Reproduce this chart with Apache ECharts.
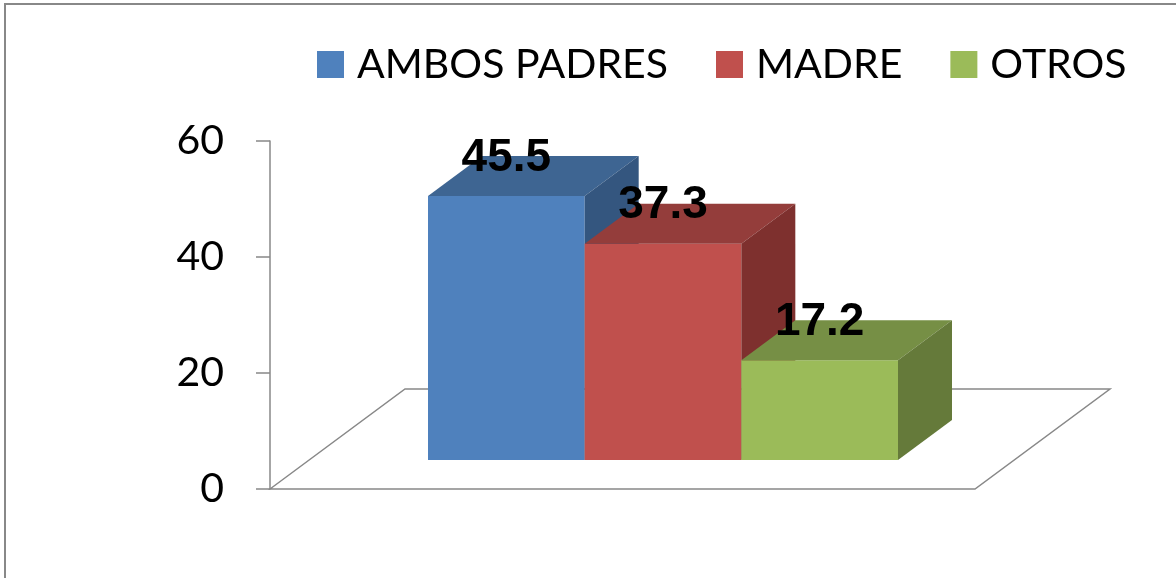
<!DOCTYPE html>
<html>
<head>
<meta charset="utf-8">
<script src="https://cdn.jsdelivr.net/npm/echarts/dist/echarts.min.js"></script>
<style>
html, body { margin: 0; padding: 0; background: #fff; }
#chart { width: 1176px; height: 578px; }
</style>
</head>
<body>
<div id="chart"></div>
<script>
// Data
const categories = ['AMBOS PADRES', 'MADRE', 'OTROS'];
const values = [45.5, 37.3, 17.2];
const yTicks = [0, 20, 40, 60];

// Face colours for the 3D columns (front, top, side)
const frontColors = ['#4F81BD', '#C0504D', '#9BBB59'];
const topColors = ['#3E6592', '#943D3B', '#768F45'];
const sideColors = ['#34567F', '#7E302E', '#657A3A'];
const barDepth = [54, -40];
const floorDepth = [135, -100];
const gray = '#888888';

const chartDom = document.getElementById('chart');
const myChart = echarts.init(chartDom);

//Builds one 3D column series (front face, top face, side face and label)
function makeBarSeries(idx) {
    return {
        name: categories[idx],
        type: 'custom',
        xAxisIndex: 1,
        yAxisIndex: 1,
        itemStyle: { color: frontColors[idx] },
        encode: { x: 0, y: 1 },
        data: [[idx, values[idx]]],
        renderItem: function (params, api) {
            const top = api.coord([api.value(0), api.value(1)]);
            const base = api.coord([api.value(0), 0]);
            const w = api.size([1, 0])[0];
            const xl = top[0] - w / 2;
            const xr = top[0] + w / 2;
            const yt = top[1];
            const yb = base[1];
            const dx = barDepth[0];
            const dy = barDepth[1];
            return {
                type: 'group',
                children: [
                    {
                        type: 'rect',
                        shape: { x: xl, y: yt, width: w, height: yb - yt },
                        style: { fill: frontColors[idx] }
                    },
                    {
                        type: 'polygon',
                        shape: { points: [[xl, yt], [xl + dx, yt + dy], [xr + dx, yt + dy], [xr, yt]] },
                        style: { fill: topColors[idx] }
                    },
                    {
                        type: 'polygon',
                        shape: { points: [[xr, yt], [xr + dx, yt + dy], [xr + dx, yb + dy], [xr, yb]] },
                        style: { fill: sideColors[idx] }
                    },
                    {
                        type: 'text',
                        z2: 100,
                        style: {
                            text: String(api.value(1)),
                            x: top[0],
                            y: yt + dy + 2,
                            align: 'center',
                            verticalAlign: 'middle',
                            font: 'bold 46px "Liberation Sans", Arial, sans-serif',
                            fill: '#000'
                        }
                    }
                ]
            };
        }
    };
}

const option = {
    animation: false,
    backgroundColor: '#fff',
    graphic: [
        {
            type: 'rect',
            shape: { x: 5, y: 4, width: 1300, height: 700 },
            style: { fill: 'none', stroke: gray, lineWidth: 2 },
            silent: true
        }
    ],
    legend: {
        data: categories,
        left: 317,
        top: 44,
        padding: 0,
        icon: 'rect',
        itemWidth: 27,
        itemHeight: 27,
        itemGap: 48,
        textStyle: {
            fontFamily: 'Lato',
            fontSize: 41,
            color: '#000',
            padding: [0, 0, 0, 8]
        }
    },
    grid: [
        { left: 270, right: 201, top: 141, bottom: 89 },
        { left: 428, right: 278, top: 112, bottom: 118 }
    ],
    xAxis: [
        { type: 'value', gridIndex: 0, min: 0, max: 1, show: false },
        { type: 'category', gridIndex: 1, data: categories, show: false }
    ],
    yAxis: [
        {
            type: 'value',
            gridIndex: 0,
            min: yTicks[0],
            max: yTicks[yTicks.length - 1],
            interval: yTicks[1] - yTicks[0],
            axisLine: { show: true, lineStyle: { color: gray, width: 1.5 } },
            axisTick: { show: true, length: 14, lineStyle: { color: gray, width: 1.5 } },
            axisLabel: { margin: 46, fontFamily: 'Lato', fontSize: 41, color: '#000' },
            splitLine: { show: false }
        },
        {
            type: 'value',
            gridIndex: 1,
            min: yTicks[0],
            max: yTicks[yTicks.length - 1],
            show: false,
            splitLine: { show: false }
        }
    ],
    series: [
        {
            // floor of the 3D plot area
            type: 'custom',
            xAxisIndex: 0,
            yAxisIndex: 0,
            silent: true,
            z: 1,
            encode: { x: 0 },
            data: [[0, 1]],
            renderItem: function (params, api) {
                const a = api.coord([api.value(0), 0]);
                const b = api.coord([api.value(1), 0]);
                return {
                    type: 'polygon',
                    shape: {
                        points: [a, [a[0] + floorDepth[0], a[1] + floorDepth[1]],
                            [b[0] + floorDepth[0], b[1] + floorDepth[1]], b]
                    },
                    style: { fill: 'none', stroke: gray, lineWidth: 1.5 }
                };
            }
        },
        makeBarSeries(0),
        makeBarSeries(1),
        makeBarSeries(2)
    ]
};

myChart.setOption(option);
</script>
</body>
</html>
